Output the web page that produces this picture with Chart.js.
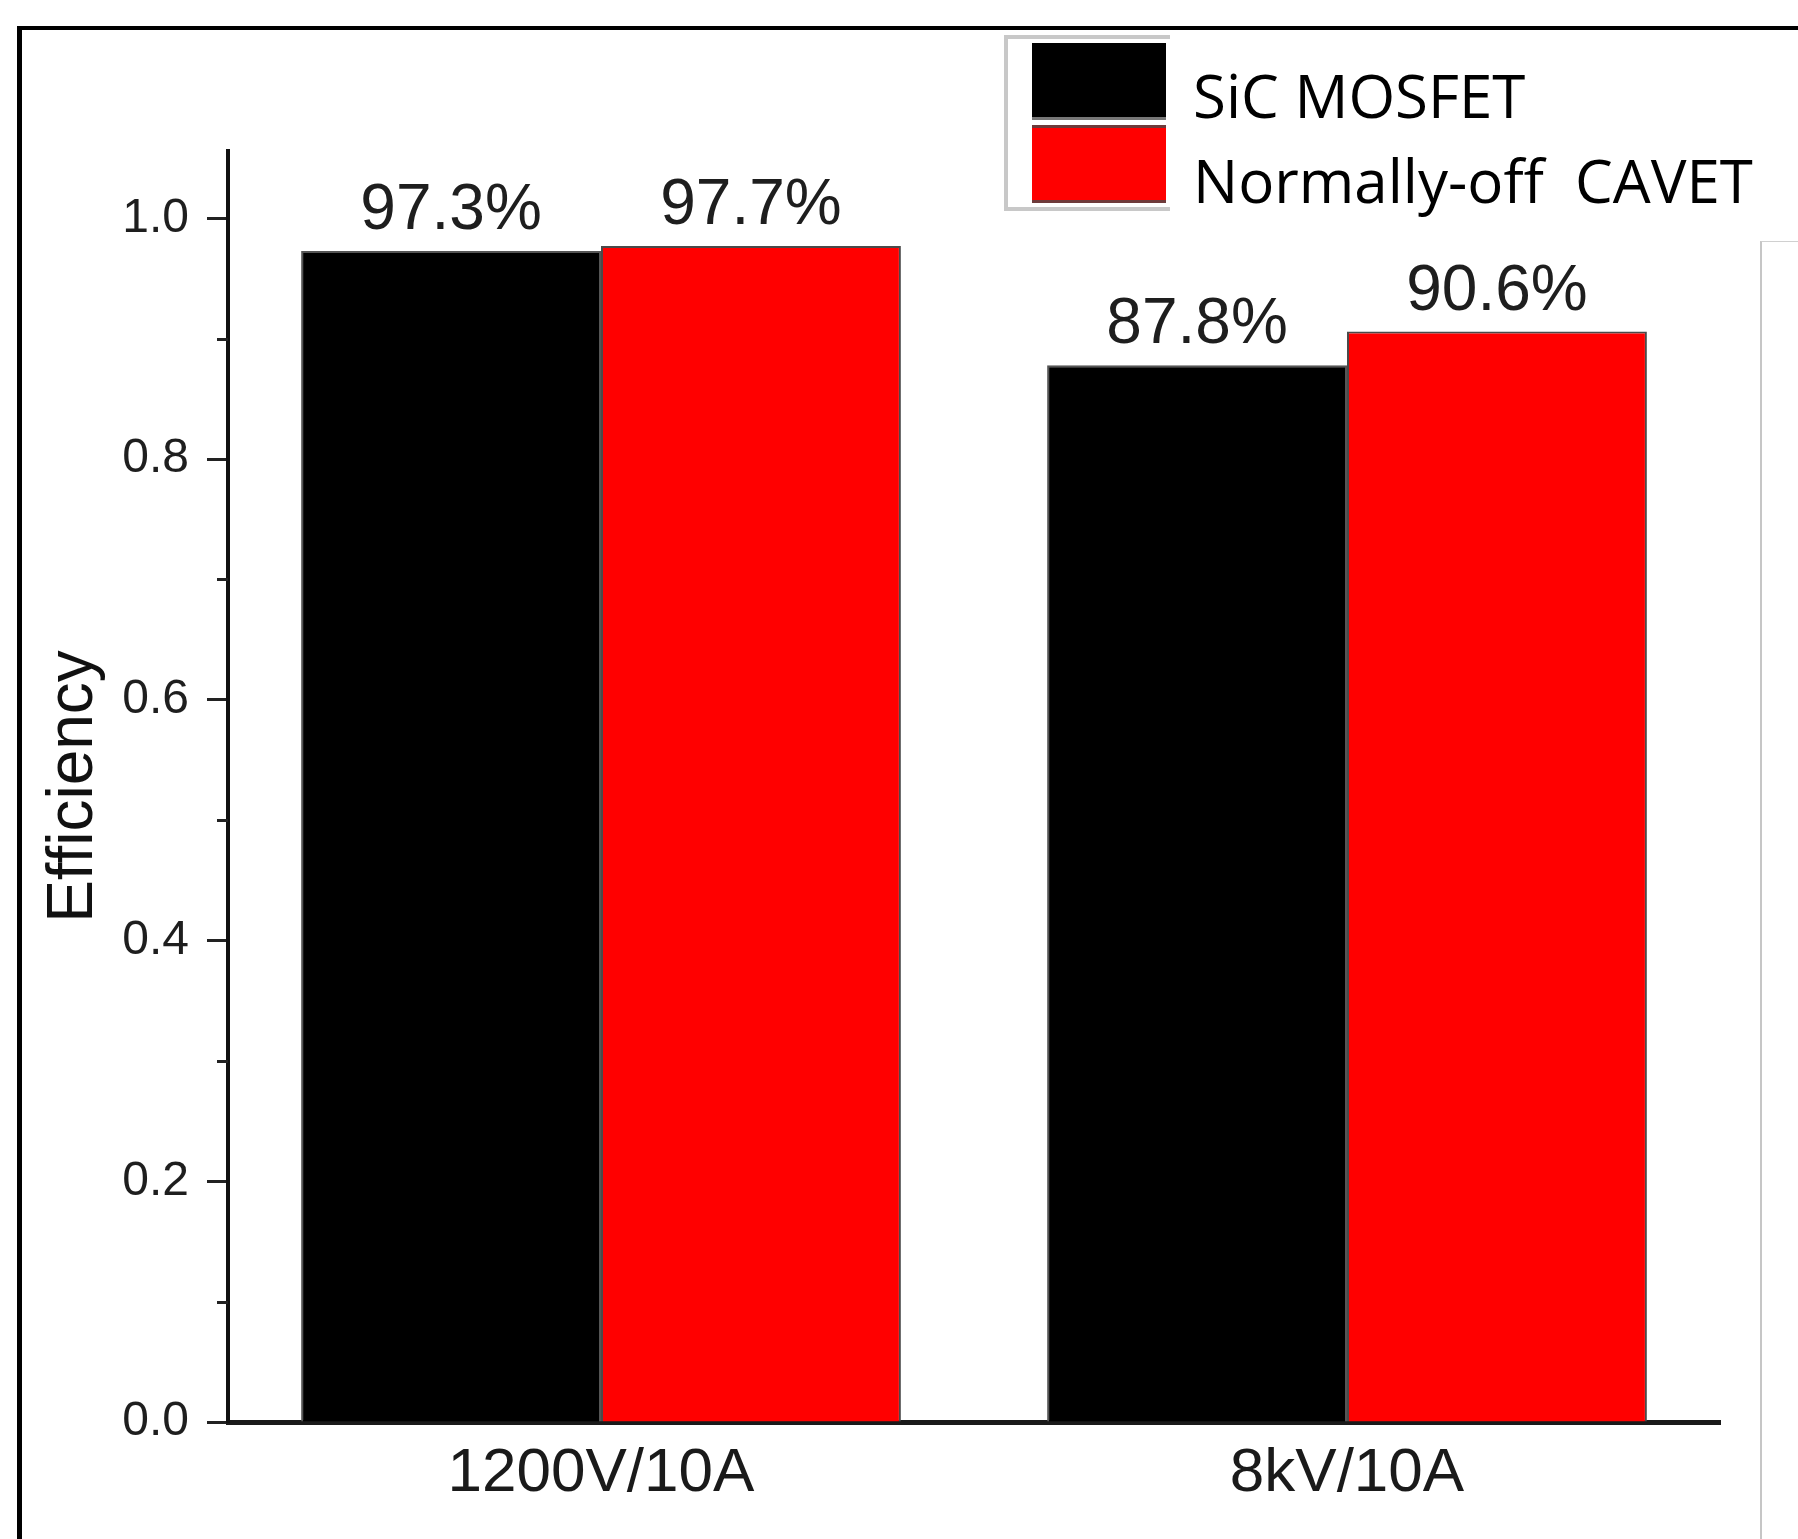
<!DOCTYPE html>
<html>
<head>
<meta charset="utf-8">
<script src="https://cdn.jsdelivr.net/npm/chart.js@4.4.0/dist/chart.umd.min.js"></script>
<style>
  html, body { margin: 0; padding: 0; background: #fff; overflow: hidden; }
  #stage { position: relative; width: 1798px; height: 1539px; overflow: hidden; background: #fff; }
  #frame { position: absolute; left: 17px; top: 26px; width: 1900px; height: 1700px; border-left: 5px solid #000; border-top: 4px solid #000; }
  #side { position: absolute; left: 1760px; top: 241px; width: 100px; height: 1400px; border-left: 2px solid #c6c6c6; border-top: 1px solid #d0d0d0; }
  #myChart { position: absolute; left: 0; top: 0; }
  #legend-frame { position: absolute; left: 1004px; top: 35px; width: 162px; height: 168px; border: 4px solid #c8c8c8; border-right: none; }
  .swatch { position: absolute; left: 1032px; width: 134px; box-sizing: border-box; }
  .legend-text { position: absolute; left: 1193px; font-family: 'Open Sans', sans-serif; font-size: 60px; line-height: 1; white-space: pre; color: #000; }
</style>
</head>
<body>
<div id="stage">
  <div id="frame"></div>
  <div id="side"></div>
  <canvas id="myChart" width="1798" height="1539"></canvas>
  <div id="legend-frame"></div>
  <div id="legend"></div>
</div>
<script>
const categories = ['1200V/10A', '8kV/10A'];
const seriesNames = ['SiC MOSFET', 'Normally-off  CAVET'];
const sicMosfet = [0.973, 0.878];
const cavet = [0.977, 0.906];
const minorTicks = [0.1, 0.3, 0.5, 0.7, 0.9];

Chart.defaults.font.family = "'Liberation Sans', Arial, sans-serif";

const minorTicksPlugin = {
  id: 'minorTicks',
  afterDraw(chart) {
    const y = chart.scales.y;
    const c = chart.ctx;
    c.save();
    c.strokeStyle = '#222';
    c.lineWidth = 3;
    minorTicks.forEach(v => {
      const py = Math.round(y.getPixelForValue(v)) + 0.5;
      c.beginPath();
      c.moveTo(y.right - 11, py);
      c.lineTo(y.right, py);
      c.stroke();
    });
    c.restore();
  }
};

const barLabelsPlugin = {
  id: 'barLabels',
  afterDatasetsDraw(chart) {
    const c = chart.ctx;
    c.save();
    c.font = "64px 'Liberation Sans', Arial, sans-serif";
    c.fillStyle = '#1e1e1e';
    c.textAlign = 'center';
    c.textBaseline = 'alphabetic';
    chart.data.datasets.forEach((ds, i) => {
      chart.getDatasetMeta(i).data.forEach((bar, j) => {
        c.fillText((ds.data[j] * 100).toFixed(1) + '%', bar.x, bar.y - 22);
      });
    });
    c.restore();
  }
};

const data = {
  labels: categories,
  datasets: [{
    label: seriesNames[0],
    data: sicMosfet,
    backgroundColor: '#000000',
    borderColor: '#555555',
    borderWidth: 2
  },
  {
    label: seriesNames[1],
    data: cavet,
    backgroundColor: '#ff0000',
    borderColor: '#4a4a4a',
    borderWidth: 2
  }]
};

const config = {
  type: 'bar',
  data: data,
  options: {
    responsive: false,
    animation: false,
    devicePixelRatio: 1,
    datasets: {
      bar: { categoryPercentage: 0.804, barPercentage: 1.0 }
    },
    layout: {
      padding: { left: 0, top: 151, right: 78, bottom: 0 }
    },
    plugins: {
      legend: { display: false },
      tooltip: { enabled: false }
    },
    scales: {
      x: {
        z: 1,
        grid: { display: false },
        border: { display: true, color: '#1a1a1a', width: 5 },
        ticks: {
          padding: 7,
          color: '#1a1a1a',
          font: { size: 62 }
        },
        afterFit(scale) { scale.height = 117; }
      },
      y: {
        z: 1,
        min: 0,
        max: 1.056,
        ticks: {
          stepSize: 0.2,
          includeBounds: false,
          padding: 18,
          color: '#1e1e1e',
          font: { size: 48 },
          callback: v => v.toFixed(1)
        },
        grid: {
          drawOnChartArea: false,
          tickLength: 21,
          tickWidth: 3,
          tickColor: '#222'
        },
        border: { display: true, color: '#111', width: 4 },
        title: {
          display: true,
          text: 'Efficiency',
          color: '#111',
          font: { size: 64 },
          padding: { top: 36, bottom: 0 }
        },
        afterFit(scale) { scale.width = 228; }
      }
    }
  },
  plugins: [minorTicksPlugin, barLabelsPlugin]
};

const myChart = new Chart(document.getElementById('myChart'), config);

// legend built from the datasets, placed over the top right like the original
const legend = document.getElementById('legend');
const swatchStyles = [
  { top: 43, height: 77, border: 'border-bottom: 3px solid #777;' },
  { top: 125, height: 78, border: 'border-top: 3px solid #6e3a3a; border-bottom: 3px solid #6e3a3a;' }
];
const textTops = [65, 150];
myChart.data.datasets.forEach((ds, i) => {
  const sw = document.createElement('div');
  sw.className = 'swatch';
  sw.style.cssText = `top:${swatchStyles[i].top}px;height:${swatchStyles[i].height}px;background:${ds.backgroundColor};${swatchStyles[i].border}`;
  legend.appendChild(sw);
  const tx = document.createElement('div');
  tx.className = 'legend-text';
  tx.style.top = textTops[i] + 'px';
  tx.textContent = ds.label;
  legend.appendChild(tx);
});
</script>
</body>
</html>
